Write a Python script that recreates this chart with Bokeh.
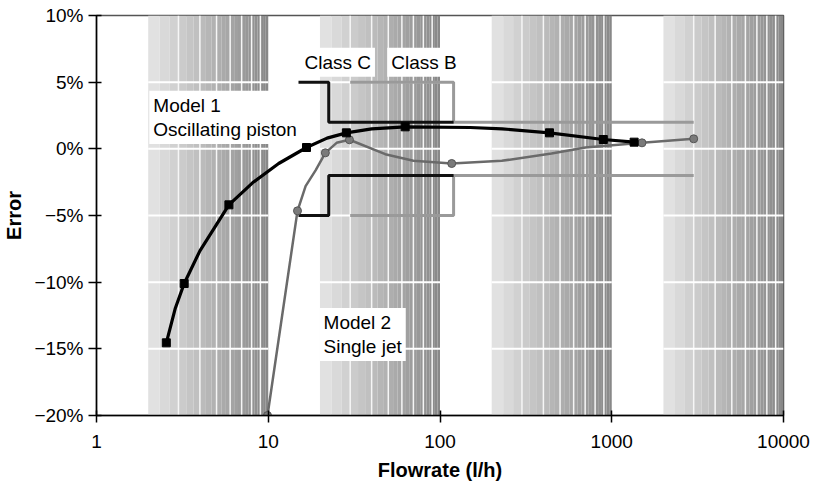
import numpy as np
from bokeh.plotting import figure
from bokeh.models import Range1d, FixedTicker, CustomJSTickFormatter, Label
from bokeh.embed import file_html
from bokeh.resources import INLINE

# ---------------- data ----------------
x_ticks = [1, 10, 100, 1000, 10000]
y_ticks = [-20, -15, -10, -5, 0, 5, 10]

# Model 1 - oscillating piston (markers)
m1_x = [2.55, 3.24, 5.9, 16.7, 28.5, 62.7, 434, 893, 1350]
m1_y = [-14.55, -10.1, -4.2, 0.1, 1.2, 1.65, 1.2, 0.7, 0.5]
# Model 1 curve trace
m1_cx = [2.55, 2.87, 3.24, 4.0, 5.9, 8.1, 11.5, 16.7, 22, 28.5, 40, 62.7, 150, 230, 434, 893, 1350]
m1_cy = [-14.55, -12.0, -10.1, -7.65, -4.2, -2.55, -1.1, 0.1, 0.8, 1.2, 1.5, 1.65, 1.6, 1.5, 1.2, 0.7, 0.5]

# Model 2 - single jet (markers)
m2_x = [9.9, 14.8, 21.5, 29.7, 117, 1500, 3000]
m2_y = [-20, -4.65, -0.3, 0.68, -1.1, 0.45, 0.75]
# Model 2 curve trace
m2_cx = [9.9, 14.8, 16.5, 18.9, 21.5, 25, 29.7, 48, 70, 117, 229, 446, 702, 1500, 3000]
m2_cy = [-20, -4.65, -2.8, -1.6, -0.3, 0.45, 0.68, -0.4, -0.9, -1.1, -0.9, -0.35, 0.1, 0.45, 0.75]

# Accuracy class limits
classC_x = [15, 22.5, 22.5, 120]
classC_up = [5, 5, 2, 2]
classC_lo = [-5, -5, -2, -2]
classB_x = [30, 120, 120, 3000]
classB_up = [5, 5, 2, 2]
classB_lo = [-5, -5, -2, -2]

# shaded decade bands (from 2x to 10x of each decade)
band_decades = [1, 10, 100, 1000]
band_mults = [2, 3, 4, 5, 6, 7, 8, 9, 10]
grid_y = [-15, -10, -5, 0, 5]

FONT = "Liberation Sans"

p = figure(width=813, height=484, x_axis_type="log",
           x_range=Range1d(1, 10000), y_range=Range1d(-20, 10),
           output_backend="svg", toolbar_location=None,
           min_border_left=93, min_border_right=30,
           min_border_top=15, min_border_bottom=69)

p.background_fill_color = "white"
p.border_fill_color = "white"
p.outline_line_color = "#555555"
p.outline_line_width = 1.5
p.xgrid.visible = False
p.ygrid.visible = False

# ---------------- background bands ----------------
lefts, rights, colors = [], [], []
nsub = 3
for d in band_decades:
    for k in band_mults[:-1]:
        for j in range(nsub):
            a = (k + j / nsub) * d
            b = (k + (j + 1) / nsub) * d
            mid = (k + (j + 0.5) / nsub)
            t = np.log10(mid / 2) / np.log10(5)
            g = int(round(230 - 95 * t))
            lefts.append(a)
            rights.append(b)
            colors.append("#%02x%02x%02x" % (g, g, g))
p.quad(left=lefts, right=rights, bottom=-20, top=10, fill_color=colors,
       line_color=None)

# white separators inside bands
vx = [k * d for d in band_decades for k in band_mults[1:-1]]
p.segment(x0=vx, y0=[-20] * len(vx), x1=vx, y1=[10] * len(vx),
          line_color="#f6f6f6", line_width=1.5)
hx0, hx1, hy = [], [], []
for d in band_decades:
    for gy in grid_y:
        hx0.append(band_mults[0] * d)
        hx1.append(band_mults[-1] * d)
        hy.append(gy)
p.segment(x0=hx0, y0=hy, x1=hx1, y1=hy, line_color="white", line_width=2)

# ---------------- class limits ----------------
p.line(classB_x, classB_up, line_color="#9a9a9a", line_width=3)
p.line(classB_x, classB_lo, line_color="#9a9a9a", line_width=3)
p.line(classC_x, classC_up, line_color="#111111", line_width=3)
p.line(classC_x, classC_lo, line_color="#111111", line_width=3)

# ---------------- curves ----------------
p.line(m2_cx, m2_cy, line_color="#6a6a6a", line_width=2.5)
p.scatter(m2_x, m2_y, marker="circle", size=8, fill_color="#7a7a7a",
          line_color="#555555", line_width=1)
p.line(m1_cx, m1_cy, line_color="black", line_width=3.2)
p.scatter(m1_x, m1_y, marker="square", size=8, fill_color="black",
          line_color="black")

# ---------------- labels ----------------
def add_label(x, y, text):
    p.add_layout(Label(x=x, y=y, text=text, text_font=FONT,
                       text_font_size="19px", text_color="black",
                       text_baseline="top", text_align="left",
                       text_line_height=1.15,
                       background_fill_color="white",
                       background_fill_alpha=1.0, padding=4))

add_label(2.03, 4.35, "Model 1\nOscillating piston")
add_label(19.9, -11.93, "Model 2\nSingle jet")
add_label(15.4, 7.58, "Class C")
add_label(49.3, 7.58, "Class B")

# ---------------- axes ----------------
p.xaxis.ticker = FixedTicker(ticks=x_ticks, minor_ticks=[])
p.xaxis.formatter = CustomJSTickFormatter(code="return tick.toFixed(0);")
p.yaxis.ticker = FixedTicker(ticks=y_ticks, minor_ticks=[])
p.yaxis.formatter = CustomJSTickFormatter(
    code="return (tick < 0 ? '\u2212' : '') + Math.abs(tick).toFixed(0) + '%';")

for ax in (p.xaxis[0], p.yaxis[0]):
    ax.axis_line_color = "black"
    ax.axis_line_width = 1.5
    ax.major_tick_line_color = "black"
    ax.major_tick_line_width = 1.5
    ax.minor_tick_line_color = None
    ax.major_label_text_font = FONT
    ax.major_label_text_font_size = "19px"
    ax.major_label_text_color = "black"
    ax.axis_label_text_font = FONT
    ax.axis_label_text_font_style = "bold"
    ax.axis_label_text_font_size = "20px"
    ax.axis_label_text_color = "black"

p.xaxis.axis_label = "Flowrate (l/h)"
p.xaxis.major_tick_in = 5
p.xaxis.major_tick_out = 7
p.xaxis.major_label_standoff = 12
p.xaxis.axis_label_standoff = 8

p.yaxis.axis_label = "Error"
p.yaxis.major_tick_in = 5
p.yaxis.major_tick_out = 8
p.yaxis.major_label_standoff = 5
p.yaxis.axis_label_standoff = 6

open("out.html", "w").write(file_html(p, INLINE))
